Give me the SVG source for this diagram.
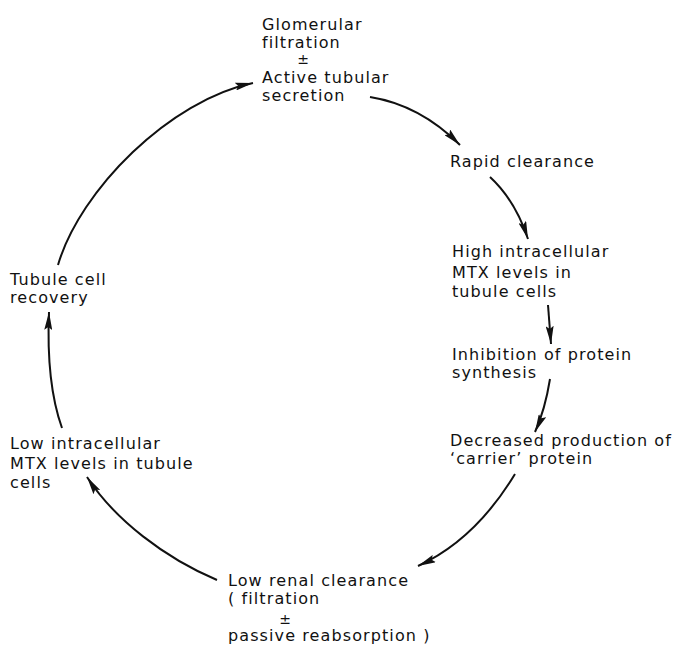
<svg xmlns="http://www.w3.org/2000/svg" width="682" height="650" viewBox="0 0 682 650">
<style>
  text { font-family: "DejaVu Sans", "Liberation Sans", sans-serif; font-size: 16px; fill: #111; letter-spacing: 1.1px; }
  .pm { text-anchor: middle; letter-spacing: 0; font-size: 14px; }
  .conn { fill: none; stroke: #111; stroke-width: 2; marker-end: url(#arr); }
</style>
<defs>
  <marker id="arr" viewBox="0 0 18 8" refX="18" refY="4" markerWidth="18" markerHeight="8" markerUnits="userSpaceOnUse" orient="auto">
    <path d="M0,0 L18,4 L0,8 L3,4 z" fill="#111"/>
  </marker>
</defs>
<rect width="682" height="650" fill="#fff"/>
<g id="connectors">
  <path class="conn" d="M58,265 C80,190 170,100 253,83"/>
  <path class="conn" d="M370,97 Q420,105 460,145"/>
  <path class="conn" d="M490,177 Q515,200 528,239"/>
  <path class="conn" d="M548,305 L551,344"/>
  <path class="conn" d="M550,379 Q545,410 535,432"/>
  <path class="conn" d="M515,474 Q475,540 418,566"/>
  <path class="conn" d="M217,580 C165,558 115,520 87,477"/>
  <path class="conn" d="M62,428 C52,400 47,360 49,312"/>
</g>
<g id="node-glomerular">
  <text x="262" y="30">Glomerular</text>
  <text x="262" y="48">filtration</text>
  <text class="pm" x="303" y="64">±</text>
  <text x="262" y="83">Active tubular</text>
  <text x="262" y="101">secretion</text>
</g>
<g id="node-rapid">
  <text x="450" y="167">Rapid clearance</text>
</g>
<g id="node-high">
  <text x="452" y="257">High intracellular</text>
  <text x="452" y="278">MTX levels in</text>
  <text x="452" y="297">tubule cells</text>
</g>
<g id="node-inhibition">
  <text x="452" y="360">Inhibition of protein</text>
  <text x="452" y="378">synthesis</text>
</g>
<g id="node-decreased">
  <text x="450" y="446">Decreased production of</text>
  <text x="450" y="464">‘carrier’ protein</text>
</g>
<g id="node-lowrenal">
  <text x="228" y="586">Low renal clearance</text>
  <text x="228" y="604">( filtration</text>
  <text class="pm" x="285" y="624">±</text>
  <text x="228" y="641">passive reabsorption )</text>
</g>
<g id="node-lowintra">
  <text x="10" y="449">Low intracellular</text>
  <text x="10" y="469">MTX levels in tubule</text>
  <text x="10" y="488">cells</text>
</g>
<g id="node-recovery">
  <text x="10" y="285">Tubule cell</text>
  <text x="10" y="303">recovery</text>
</g>
</svg>
